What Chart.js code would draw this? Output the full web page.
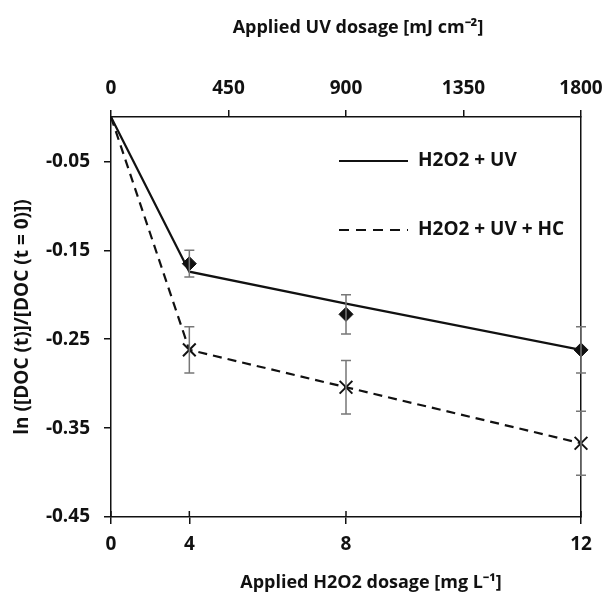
<!DOCTYPE html>
<html>
<head>
<meta charset="UTF-8">
<script src="https://cdn.jsdelivr.net/npm/chart.js@4/dist/chart.umd.min.js"></script>
<style>
  html, body { margin: 0; padding: 0; background: #fff; }
  #wrap { width: 605px; height: 598px; }
</style>
</head>
<body>
<div id="wrap"><canvas id="c" width="605" height="598"></canvas></div>
<script>
// 데이터
const uvDose = [0, 300, 900, 1800];            // 점 위치 (UV 축)
const h2o2Labels = ['0', '4', '8', '12'];      // 아래 축 눈금 글자
const uvTicks = [0, 450, 900, 1350, 1800];
const yTicks = [-0.05, -0.15, -0.25, -0.35, -0.45];

const fitUV = [0, -0.174, -0.210, -0.262];
const fitUVHC = [0, -0.262, -0.304, -0.367];

const measDose = [300, 900, 1800];
const measUV = [-0.165, -0.222, -0.262];
const errUV = [0.015, 0.022, 0.026];
const measUVHC = [-0.262, -0.304, -0.367];
const errUVHC = [0.026, 0.030, 0.036];

const seriesNames = ['H2O2 + UV', 'H2O2 + UV + HC'];
const topTitle = 'Applied UV dosage [mJ cm⁻²]';
const bottomTitle = 'Applied H2O2 dosage [mg L⁻¹]';

const FONT = '"Open Sans"';
const ink = '#111';

const toXY = (xs, ys) => xs.map((x, i) => ({ x, y: ys[i] }));

// 오차막대 + 안쪽 눈금
const errorBars = {
  id: 'errorBars',
  afterDatasetsDraw(chart) {
    const { ctx, scales: { x, y } } = chart;
    ctx.save();
    ctx.strokeStyle = '#777';
    ctx.lineWidth = 1.5;
    [[measUV, errUV], [measUVHC, errUVHC]].forEach(([vals, errs]) => {
      vals.forEach((v, i) => {
        const px = x.getPixelForValue(measDose[i]);
        const y1 = y.getPixelForValue(v + errs[i]);
        const y2 = y.getPixelForValue(v - errs[i]);
        ctx.beginPath();
        ctx.moveTo(px, y1); ctx.lineTo(px, y2);
        ctx.moveTo(px - 5, y1); ctx.lineTo(px + 5, y1);
        ctx.moveTo(px - 5, y2); ctx.lineTo(px + 5, y2);
        ctx.stroke();
      });
    });
    // 아래 축 안쪽 눈금
    ctx.strokeStyle = ink;
    ctx.lineWidth = 1.5;
    uvDose.forEach(d => {
      const px = x.getPixelForValue(d);
      ctx.beginPath();
      ctx.moveTo(px, y.bottom); ctx.lineTo(px, y.bottom - 6);
      ctx.stroke();
    });
    ctx.restore();
  }
};

// 범례 + 위/아래 축 제목
const innerLegend = {
  id: 'innerLegend',
  afterDraw(chart) {
    const { ctx, chartArea: a } = chart;
    const x0 = a.left + 228, x1 = a.left + 297, tx = a.left + 307;
    const rows = [a.top + 44, a.top + 113];
    ctx.save();
    ctx.strokeStyle = ink;
    ctx.lineWidth = 2;
    ctx.font = `bold 19px ${FONT}`;
    ctx.fillStyle = ink;
    ctx.textBaseline = 'middle';
    rows.forEach((ry, i) => {
      ctx.setLineDash(i === 0 ? [] : [10, 7]);
      ctx.beginPath();
      ctx.moveTo(x0, ry); ctx.lineTo(x1, ry);
      ctx.stroke();
      ctx.setLineDash([]);
      ctx.fillText(seriesNames[i], tx, ry);
    });
    const mid = (a.left + a.right) / 2;
    ctx.font = `bold 18px ${FONT}`;
    ctx.textAlign = 'center';
    ctx.fillText(topTitle, mid + 12, 28);
    ctx.fillText(bottomTitle, mid + 25, 583);
    ctx.restore();
  }
};

const tickFont = { family: FONT, size: 19, weight: 'bold' };
const titleFont = { family: FONT, size: 19, weight: 'bold' };

new Chart(document.getElementById('c'), {
  type: 'line',
  data: {
    datasets: [
      { label: seriesNames[0], data: toXY(uvDose, fitUV), borderColor: ink, borderWidth: 2.2,
        pointRadius: 0, fill: false, tension: 0 },
      { label: seriesNames[1], data: toXY(uvDose, fitUVHC), borderColor: ink, borderWidth: 2.2,
        borderDash: [9, 6], pointRadius: 0, fill: false, tension: 0 },
      { label: 'meas1', data: toXY(measDose, measUV), showLine: false, pointStyle: 'rectRot',
        pointRadius: 7, backgroundColor: ink, borderColor: ink, borderWidth: 1, clip: false },
      { label: 'meas2', data: toXY(measDose, measUVHC), showLine: false, pointStyle: 'crossRot',
        pointRadius: 9, borderColor: ink, borderWidth: 2, clip: false }
    ]
  },
  options: {
    responsive: false,
    animation: false,
    layout: { padding: 0, autoPadding: false },
    plugins: { legend: { display: false }, tooltip: { enabled: false } },
    scales: {
      x: {
        type: 'linear', position: 'bottom', min: 0, max: 1800,
        afterBuildTicks: s => { s.ticks = uvDose.map(v => ({ value: v })); },
        afterFit: s => { s.height = 81; s.paddingLeft = 0; s.paddingRight = 0; },
        ticks: { font: tickFont, color: ink, padding: 9, maxRotation: 0,
                 callback: (v, i) => h2o2Labels[i] },
        grid: { drawOnChartArea: false, tickLength: 7, color: ink, lineWidth: 1.5 },
        border: { color: ink, width: 1.5 }
      },
      x2: {
        type: 'linear', position: 'top', min: 0, max: 1800,
        afterBuildTicks: s => { s.ticks = uvTicks.map(v => ({ value: v })); },
        afterFit: s => { s.height = 117; s.paddingLeft = 0; s.paddingRight = 0; },
        ticks: { font: tickFont, color: ink, padding: 10, maxRotation: 0,
                 callback: v => String(v) },
        grid: { drawOnChartArea: false, tickLength: 7, color: ink, lineWidth: 1.5 },
        border: { color: ink, width: 1.5 }
      },
      y: {
        type: 'linear', position: 'left', min: -0.45, max: 0,
        afterBuildTicks: s => { s.ticks = yTicks.map(v => ({ value: v })); },
        afterFit: s => { s.width = 111; },
        ticks: { font: tickFont, color: ink, padding: 14, callback: v => v.toFixed(2) },
        grid: { drawOnChartArea: false, tickLength: 7, color: ink, lineWidth: 1.5 },
        border: { color: ink, width: 1.5 },
        title: { display: true, text: 'ln ([DOC (t)]/[DOC (t = 0)])', font: titleFont, color: ink,
                 padding: { top: 11, bottom: 0 } }
      },
      y2: {
        type: 'linear', position: 'right', min: -0.45, max: 0,
        afterFit: s => { s.width = 24; },
        ticks: { display: false },
        grid: { drawOnChartArea: false, drawTicks: false },
        border: { color: ink, width: 1.5 }
      }
    }
  },
  plugins: [errorBars, innerLegend]
});
</script>
</body>
</html>
